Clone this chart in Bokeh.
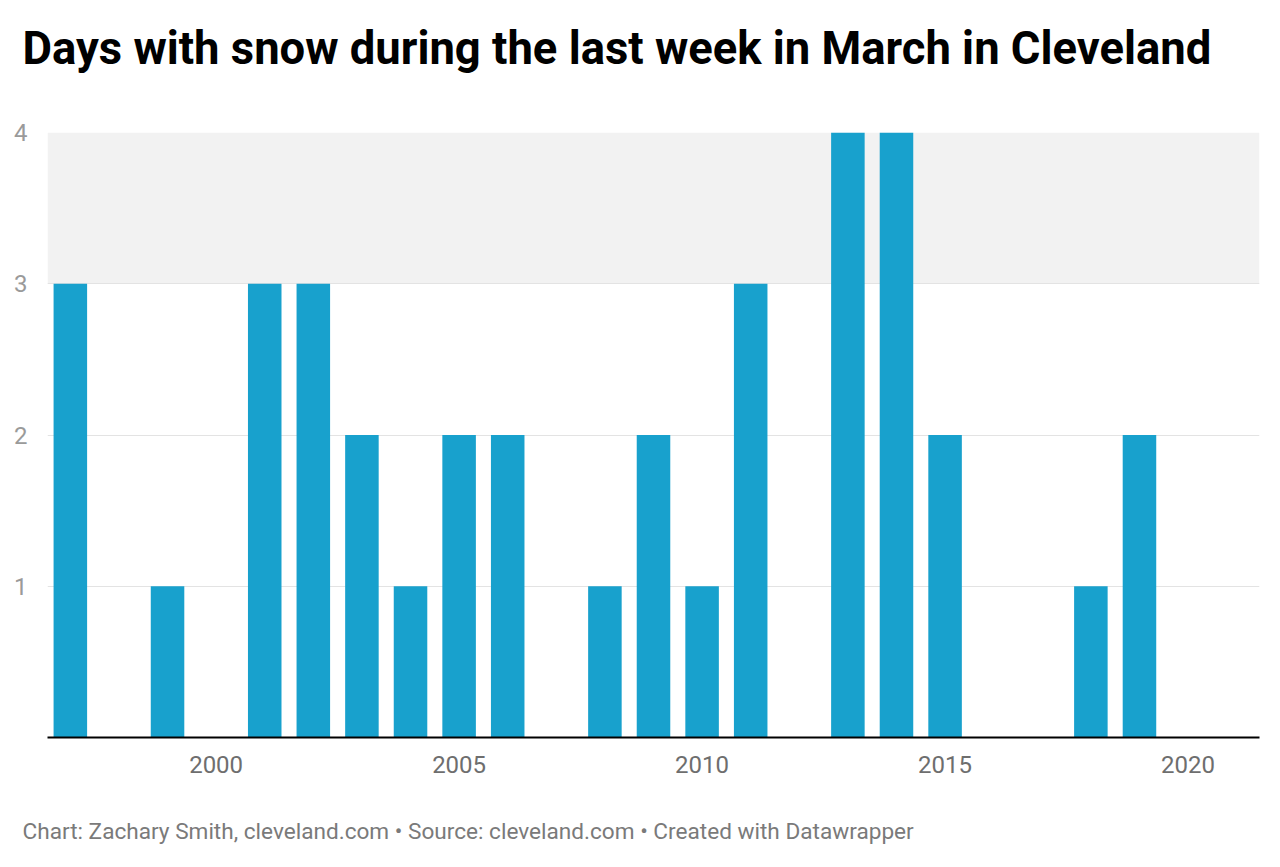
from bokeh.plotting import figure
from bokeh.models import Title, BoxAnnotation, FixedTicker, Range1d, ColumnDataSource
from bokeh.embed import file_html
from bokeh.resources import INLINE

years = list(range(1997, 2021))
snow_days = [3, 0, 1, 0, 3, 3, 2, 1, 2, 2, 0, 1, 2, 1, 3, 0, 4, 4, 2, 0, 0, 1, 2, 0]
x_ticks = [2000, 2005, 2010, 2015, 2020]
y_ticks = [1, 2, 3, 4]
band_low, band_high = 3, 4

title_text = "Days with snow during the last week in March in Cleveland"
footer_text = "Chart: Zachary Smith, cleveland.com \u2022 Source: cleveland.com \u2022 Created with Datawrapper"

BAR = "#18a1cd"
FONT = "Roboto"
W, H = 1264, 851

p = figure(width=W, height=H, output_backend="svg", toolbar_location=None,
           x_range=Range1d(1996.53, 2021.47), y_range=Range1d(0, 4),
           min_border_left=47, min_border_right=5, min_border_top=132, min_border_bottom=114)
p.outline_line_color = None
p.background_fill_color = "white"
p.border_fill_color = "white"

band = BoxAnnotation(bottom=band_low, top=band_high, fill_color="#f2f2f2", fill_alpha=1.0,
                     line_color=None, level="image")
p.add_layout(band)

src = ColumnDataSource(dict(x=years, top=snow_days))
p.vbar(x="x", top="top", bottom=0, width=0.69, source=src, fill_color=BAR, line_color=None)

p.xgrid.visible = False
p.ygrid.ticker = FixedTicker(ticks=y_ticks)
p.ygrid.grid_line_color = "#e3e3e3"
p.ygrid.grid_line_width = 1

p.xaxis.ticker = FixedTicker(ticks=x_ticks)
p.xaxis.axis_line_color = "#000000"
p.xaxis.axis_line_width = 2
p.xaxis.major_tick_line_color = None
p.xaxis.minor_tick_line_color = None
p.xaxis.major_label_text_font = FONT
p.xaxis.major_label_text_font_size = "24px"
p.xaxis.major_label_text_color = "#6e6e6e"
p.xaxis.major_label_standoff = 12

p.yaxis.ticker = FixedTicker(ticks=y_ticks)
p.yaxis.axis_line_color = None
p.yaxis.major_tick_line_color = None
p.yaxis.minor_tick_line_color = None
p.yaxis.major_label_text_font = FONT
p.yaxis.major_label_text_font_size = "24px"
p.yaxis.major_label_text_color = "#9a9a9a"
p.yaxis.major_label_standoff = 14

# spacer between frame and title (nearest to frame)
top_gap = Title(text=" ", align="left", standoff=1, text_font=FONT,
                text_font_style="bold", text_font_size="45.4px", text_color="white")
p.add_layout(top_gap, "above")

title = Title(text=title_text, align="left", offset=-25, vertical_align="top", standoff=0,
              text_font=FONT, text_font_style="bold", text_font_size="45.4px",
              text_color="#000000")
p.add_layout(title, "above")

# spacer between axis and footer
bottom_gap = Title(text=" ", align="left", standoff=13, text_font=FONT,
                   text_font_size="22.6px", text_color="white")
p.add_layout(bottom_gap, "below")

footer = Title(text=footer_text, align="left", offset=-25, vertical_align="top", standoff=0,
               text_font=FONT, text_font_style="normal", text_font_size="22.6px",
               text_color="#7a7a7a")
p.add_layout(footer, "below")

open("out.html", "w").write(file_html(p, INLINE))
